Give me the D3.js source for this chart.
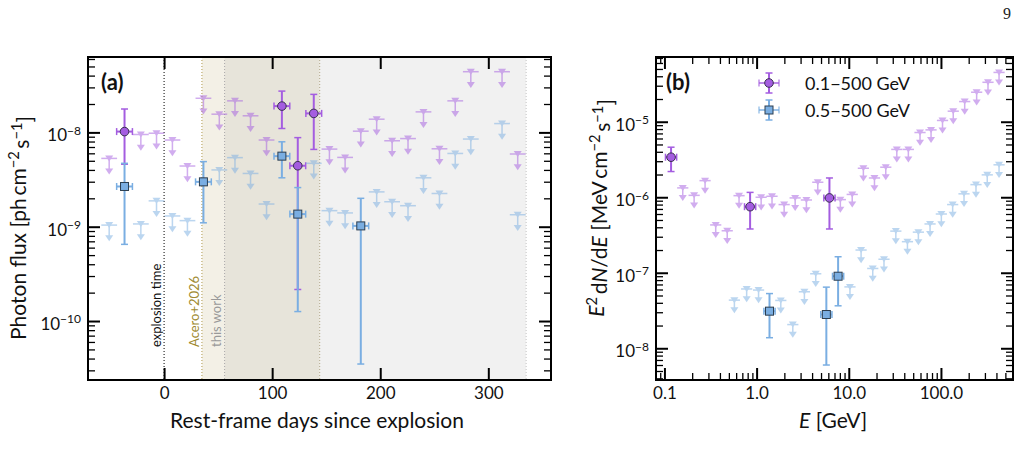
<!DOCTYPE html>
<html>
<head>
<meta charset="utf-8">
<script src="https://cdn.jsdelivr.net/npm/d3@7"></script>
<style>
body { margin: 0; background: #fff; }
svg { font-family: Lato, "DejaVu Sans", sans-serif; }
</style>
</head>
<body>
<div id="chart"></div>
<script>
// ---------- panel (a): light curve, rest-frame days ----------
const aBinHalf = 7.3
// 0.1-500 GeV detections
const aPurpleDetT  = [-36.6, 109, 123.7, 138.5]
const aPurpleDetV  = [1.02e-8, 1.9e-8, 4.43e-9, 1.59e-8]
const aPurpleDetLo = [4.6e-9, 1.1e-8, 2.16e-10, 6.6e-9]
const aPurpleDetHi = [1.77e-8, 2.74e-8, 8.8e-9, 2.53e-8]
// 0.1-500 GeV upper limits
const aPurpleUlT = [-50.8, -21.5, -7, 7.7, 21.6, 36.4, 51.1, 65.6, 80, 94.8, 153, 167.5, 182, 196.7, 211, 225.7, 240, 254.8, 269.4, 283.8, 312.7, 327.2]
const aPurpleUlV = [5.3e-9, 9.5e-9, 9.8e-9, 8.3e-9, 4.4e-9, 2.3e-8, 1.56e-8, 2.16e-8, 1.5e-8, 8.3e-9, 6.65e-9, 5.43e-9, 1.03e-8, 1.38e-8, 8.15e-9, 8.6e-9, 1.65e-8, 6.7e-9, 2.16e-8, 4.4e-8, 4.4e-8, 5.9e-9]
// 0.5-500 GeV detections
const aBlueDetT  = [-36.6, 36.4, 109, 123.7, 182]
const aBlueDetV  = [2.67e-9, 2.99e-9, 5.6e-9, 1.36e-9, 1.02e-9]
const aBlueDetLo = [6.5e-10, 1.1e-9, 3.3e-9, 1.26e-10, 3.5e-11]
const aBlueDetHi = [4.7e-9, 4.9e-9, 7.95e-9, 2.6e-9, 2.0e-9]
// 0.5-500 GeV upper limits
const aBlueUlT = [-50.8, -21.5, -7, 7.7, 21.6, 51.1, 65.6, 80, 94.8, 138.5, 153, 167.5, 196.7, 211, 225.7, 240, 254.8, 269.4, 283.8, 312.7, 327.2]
const aBlueUlV = [1.04e-9, 1.07e-9, 1.88e-9, 1.3e-9, 1.16e-9, 4.0e-9, 5.4e-9, 3.67e-9, 1.74e-9, 4.7e-9, 1.48e-9, 1.4e-9, 2.34e-9, 1.84e-9, 1.67e-9, 3.3e-9, 2.25e-9, 5.98e-9, 8.5e-9, 1.24e-8, 1.34e-9]
// shaded periods (days)
const explosionDay = 0
const aceroRange = [35, 144]
const thisWorkRange = [56, 144]
const laterRange = [144, 335]

// ---------- panel (b): SED ----------
const bBinFactor = 1.15
const bPurpleDetE  = [0.118, 0.85, 6.17]
const bPurpleDetV  = [3.39e-6, 7.5e-7, 9.8e-7]
const bPurpleDetLo = [2.19e-6, 3.8e-7, 3.8e-7]
const bPurpleDetHi = [4.6e-6, 1.16e-6, 1.8e-6]
const bPurpleUlE = [0.158, 0.21, 0.276, 0.36, 0.48, 0.645, 1.12, 1.47, 1.99, 2.62, 3.47, 4.61, 8.1, 10.9, 14.4, 19.0, 25.2, 33.2, 44.3, 59.3, 78.1, 104, 136, 181, 244, 324, 427]
const bPurpleUlV = [1.33e-6, 1.06e-6, 1.66e-6, 4.3e-7, 3.6e-7, 1.05e-6, 1.0e-6, 1.03e-6, 8.0e-7, 9.8e-7, 9.2e-7, 1.58e-6, 9.3e-7, 1.09e-6, 2.42e-6, 1.8e-6, 2.5e-6, 4.3e-6, 4.3e-6, 7.2e-6, 7.8e-6, 1.04e-5, 1.38e-5, 1.85e-5, 2.46e-5, 3.33e-5, 4.5e-5]
const bBlueDetE  = [1.38, 5.71, 7.66]
const bBlueDetV  = [3.1e-8, 2.8e-8, 9.0e-8]
const bBlueDetLo = [1.38e-8, 6.0e-9, 3.65e-8]
const bBlueDetHi = [5.3e-8, 6.45e-8, 1.63e-7]
const bBlueUlE = [0.574, 0.78, 1.05, 1.83, 2.47, 3.3, 4.38, 10.3, 13.6, 18.2, 24.1, 32.4, 43.3, 56.9, 76.2, 101, 134, 178, 240, 318, 427]
const bBlueUlV = [4.34e-8, 6.1e-8, 5.9e-8, 4.3e-8, 2.06e-8, 5.6e-8, 9.7e-8, 6.5e-8, 2.0e-7, 1.14e-7, 1.51e-7, 3.56e-7, 2.58e-7, 3.45e-7, 4.43e-7, 6.0e-7, 8.0e-7, 1.11e-6, 1.47e-6, 1.98e-6, 2.69e-6]

const legendLabels = ["0.1\u2212500 GeV", "0.5\u2212500 GeV"]

// colours
const purple = "#a45de0"
const blue = "#7aaee2"
const ulFrac = 0.69   // arrow tip of an upper limit, as fraction of the limit

const W = 1023, H = 466
const svg = d3.select("#chart").append("svg")
  .attr("width", W).attr("height", H)

const boxA = {left: 88, right: 551, top: 57, bottom: 380}
const boxB = {left: 656, right: 1013, top: 57, bottom: 380}

const xA = d3.scaleLinear().domain([-70.4, 358]).range([boxA.left, boxA.right])
const yA = d3.scaleLog().domain([2.37e-11, 6.3e-8]).range([boxA.bottom, boxA.top])
const xB = d3.scaleLog().domain([0.081, 605]).range([boxB.left, boxB.right])
const yB = d3.scaleLog().domain([3.8e-9, 7.2e-5]).range([boxB.bottom, boxB.top])

// minor ticks for a log domain
function logMinor(domain) {
  const out = []
  for (let e = -12; e <= 4; e++) {
    for (let m = 2; m <= 9; m++) {
      const v = m * Math.pow(10, e)
      if (v > domain[0] && v < domain[1]) out.push(v)
    }
  }
  return out
}
function logMajor(domain) {
  const out = []
  for (let e = -12; e <= 4; e++) {
    const v = Math.pow(10, e)
    if (v >= domain[0] && v <= domain[1]) out.push(v)
  }
  return out
}

// ---------- shaded regions panel (a) ----------
const gA = svg.append("g")
function shade(range, fill) {
  gA.append("rect")
    .attr("x", xA(range[0])).attr("y", boxA.top)
    .attr("width", xA(range[1]) - xA(range[0]))
    .attr("height", boxA.bottom - boxA.top)
    .attr("fill", fill)
}
shade(aceroRange, "#f3f0e6")
shade(thisWorkRange, "#e7e4da")
shade(laterRange, "#f1f1f1")

function vline(day, color) {
  gA.append("line")
    .attr("x1", xA(day)).attr("x2", xA(day))
    .attr("y1", boxA.top).attr("y2", boxA.bottom)
    .attr("stroke", color).attr("stroke-width", 1)
    .attr("stroke-dasharray", "1,2")
}
vline(explosionDay, "#000")
vline(aceroRange[0], "#b09a50")
vline(thisWorkRange[0], "#a8a8a8")
vline(thisWorkRange[1], "#b0a888")
vline(laterRange[1], "#c4c4c4")

function vtext(day, dx, txt, color) {
  gA.append("text")
    .attr("transform", `translate(${xA(day) + dx},347) rotate(-90)`)
    .attr("font-size", "13px")
    .attr("fill", color)
    .text(txt)
}
vtext(explosionDay, -3, "explosion time", "#111")
vtext(aceroRange[0], -3, "Acero+2026", "#a08a30")
vtext(thisWorkRange[0], -4, "this work", "#999")

// ---------- marks ----------
function drawDet(g, xs, ys, x, xlo, xhi, v, lo, hi, color, shape) {
  const cx = xs(x), cy = ys(v)
  const grp = g.append("g")
  grp.append("line").attr("x1", cx).attr("x2", cx).attr("y1", ys(lo)).attr("y2", ys(hi))
    .attr("stroke", color).attr("stroke-width", 2)
  grp.append("line").attr("x1", xs(xlo)).attr("x2", xs(xhi)).attr("y1", cy).attr("y2", cy)
    .attr("stroke", color).attr("stroke-width", 2)
  ;[ys(lo), ys(hi)].forEach(yy => grp.append("line")
    .attr("x1", cx - 3.5).attr("x2", cx + 3.5).attr("y1", yy).attr("y2", yy)
    .attr("stroke", color).attr("stroke-width", 1.5))
  ;[xs(xlo), xs(xhi)].forEach(xx => grp.append("line")
    .attr("x1", xx).attr("x2", xx).attr("y1", cy - 3.5).attr("y2", cy + 3.5)
    .attr("stroke", color).attr("stroke-width", 1.5))
  if (shape === "circle") {
    grp.append("circle").attr("cx", cx).attr("cy", cy).attr("r", 4.3)
      .attr("fill", color).attr("stroke", "#3a3050").attr("stroke-width", 1)
  } else {
    grp.append("rect").attr("x", cx - 4).attr("y", cy - 4).attr("width", 8).attr("height", 8)
      .attr("fill", color).attr("stroke", "#2c3e50").attr("stroke-width", 1)
  }
}

function drawUl(g, xs, ys, x, xlo, xhi, v, color) {
  const cx = xs(x), cy = ys(v), yb = ys(v * ulFrac)
  const grp = g.append("g").attr("opacity", 0.5)
  grp.append("line").attr("x1", xs(xlo)).attr("x2", xs(xhi)).attr("y1", cy).attr("y2", cy)
    .attr("stroke", color).attr("stroke-width", 1.5)
  grp.append("line").attr("x1", cx).attr("x2", cx).attr("y1", cy).attr("y2", yb - 3)
    .attr("stroke", color).attr("stroke-width", 1.5)
  grp.append("path").attr("d", `M${cx - 4},${cy - 3}L${cx + 4},${cy - 3}L${cx},${cy + 3}Z`)
    .attr("fill", color)
  grp.append("path").attr("d", `M${cx - 4},${yb - 5}L${cx + 4},${yb - 5}L${cx},${yb + 1}Z`)
    .attr("fill", color)
}

// panel (a) marks: purple first, blue on top
const marksA = svg.append("g")
aPurpleUlT.forEach((t, i) => drawUl(marksA, xA, yA, t, t - aBinHalf, t + aBinHalf, aPurpleUlV[i], purple))
aPurpleDetT.forEach((t, i) => drawDet(marksA, xA, yA, t, t - aBinHalf, t + aBinHalf,
  aPurpleDetV[i], aPurpleDetLo[i], aPurpleDetHi[i], purple, "circle"))
aBlueUlT.forEach((t, i) => drawUl(marksA, xA, yA, t, t - aBinHalf, t + aBinHalf, aBlueUlV[i], blue))
aBlueDetT.forEach((t, i) => drawDet(marksA, xA, yA, t, t - aBinHalf, t + aBinHalf,
  aBlueDetV[i], aBlueDetLo[i], aBlueDetHi[i], blue, "square"))

// panel (b) marks
const marksB = svg.append("g")
bPurpleUlE.forEach((e, i) => drawUl(marksB, xB, yB, e, e / bBinFactor, e * bBinFactor, bPurpleUlV[i], purple))
bPurpleDetE.forEach((e, i) => drawDet(marksB, xB, yB, e, e / bBinFactor, e * bBinFactor,
  bPurpleDetV[i], bPurpleDetLo[i], bPurpleDetHi[i], purple, "circle"))
bBlueUlE.forEach((e, i) => drawUl(marksB, xB, yB, e, e / bBinFactor, e * bBinFactor, bBlueUlV[i], blue))
bBlueDetE.forEach((e, i) => drawDet(marksB, xB, yB, e, e / bBinFactor, e * bBinFactor,
  bBlueDetV[i], bBlueDetLo[i], bBlueDetHi[i], blue, "square"))

// ---------- axes ----------
function supLabel(sel, anchor, dy) {
  sel.each(function(d) {
    const t = d3.select(this)
    const ex = Math.round(Math.log10(d))
    t.text(null).attr("text-anchor", anchor).attr("dy", dy)
    t.append("tspan").text("10")
    t.append("tspan").attr("dy", "-0.55em").attr("font-size", "12px").text("\u2212" + Math.abs(ex))
  })
}

function styleAxis(g, width) {
  g.select(".domain").remove()
  g.selectAll(".tick line").attr("stroke", "#000").attr("stroke-width", width)
  g.selectAll("text").attr("font-family", "Lato, 'DejaVu Sans', sans-serif")
    .attr("font-size", "17px").attr("fill", "#111")
}

function axes(box, xs, ys, xMajor, xMinor, xFmt, yMajor, yMinor) {
  const g = svg.append("g")
  // bottom/top major
  const b = g.append("g").attr("transform", `translate(0,${box.bottom})`)
    .call(d3.axisBottom(xs).tickValues(xMajor).tickSize(-12).tickPadding(7).tickFormat(xFmt))
  styleAxis(b, 2)
  const t = g.append("g").attr("transform", `translate(0,${box.top})`)
    .call(d3.axisTop(xs).tickValues(xMajor).tickSize(-12).tickFormat(""))
  styleAxis(t, 2)
  if (xMinor.length) {
    styleAxis(g.append("g").attr("transform", `translate(0,${box.bottom})`)
      .call(d3.axisBottom(xs).tickValues(xMinor).tickSize(-7).tickFormat("")), 1.3)
    styleAxis(g.append("g").attr("transform", `translate(0,${box.top})`)
      .call(d3.axisTop(xs).tickValues(xMinor).tickSize(-7).tickFormat("")), 1.3)
  }
  const l = g.append("g").attr("transform", `translate(${box.left},0)`)
    .call(d3.axisLeft(ys).tickValues(yMajor).tickSize(-12).tickPadding(7))
  styleAxis(l, 2)
  supLabel(l.selectAll(".tick text"), "end", "0.5em")
  styleAxis(g.append("g").attr("transform", `translate(${box.right},0)`)
    .call(d3.axisRight(ys).tickValues(yMajor).tickSize(-12).tickFormat("")), 2)
  styleAxis(g.append("g").attr("transform", `translate(${box.left},0)`)
    .call(d3.axisLeft(ys).tickValues(yMinor).tickSize(-7).tickFormat("")), 1.3)
  styleAxis(g.append("g").attr("transform", `translate(${box.right},0)`)
    .call(d3.axisRight(ys).tickValues(yMinor).tickSize(-7).tickFormat("")), 1.3)
  g.append("rect").attr("x", box.left).attr("y", box.top)
    .attr("width", box.right - box.left).attr("height", box.bottom - box.top)
    .attr("fill", "none").attr("stroke", "#000").attr("stroke-width", 2)
}

axes(boxA, xA, yA, [0, 100, 200, 300], [], d3.format("d"),
  logMajor(yA.domain()), logMinor(yA.domain()))
axes(boxB, xB, yB, logMajor(xB.domain()), logMinor(xB.domain()), d3.format(".1f"),
  logMajor(yB.domain()), logMinor(yB.domain()))

// ---------- titles / labels ----------
function label(x, y, rot, parts, size) {
  const t = svg.append("text")
    .attr("transform", `translate(${x},${y}) rotate(${rot})`)
    .attr("text-anchor", "middle").attr("font-size", size + "px").attr("fill", "#111")
  parts.forEach(p => {
    const s = t.append("tspan").text(p.t)
    if (p.sup) s.attr("dy", "-0.5em").attr("font-size", (size * 0.7) + "px")
    if (p.down) s.attr("dy", "0.5em")
    if (p.it) s.attr("font-style", "italic")
  })
}

label(317, 428, 0, [{t: "Rest-frame days since explosion"}], 21)
label(26, 228, -90, [
  {t: "Photon flux [ph\u2009cm"}, {t: "\u22122", sup: true}, {t: "\u2009s", down: true},
  {t: "\u22121", sup: true}, {t: "]", down: true}], 21)
label(833, 428, 0, [{t: "E", it: true}, {t: " [GeV]"}], 21)
label(604, 208, -90, [
  {t: "E", it: true}, {t: "2", sup: true}, {t: "\u2009d", down: true}, {t: "N", it: true},
  {t: "/d"}, {t: "E", it: true}, {t: " [MeV\u2009cm"}, {t: "\u22122", sup: true},
  {t: "\u2009s", down: true}, {t: "\u22121", sup: true}, {t: "]", down: true}], 21)

svg.append("text").attr("x", 101).attr("y", 90).attr("font-size", "22px")
  .attr("font-weight", "bold").attr("fill", "#111").text("(a)")
svg.append("text").attr("x", 666).attr("y", 90).attr("font-size", "22px")
  .attr("font-weight", "bold").attr("fill", "#111").text("(b)")

svg.append("text").attr("x", 1003).attr("y", 19).attr("font-size", "16px")
  .attr("font-family", "'Liberation Serif', 'DejaVu Serif', serif").attr("fill", "#222").text("9")

// ---------- legend ----------
const leg = svg.append("g")
const legColors = [purple, blue]
const legShapes = ["circle", "square"]
legendLabels.forEach((lab, i) => {
  const cx = 769, cy = 83 + i * 27
  const c = legColors[i]
  leg.append("line").attr("x1", cx - 10).attr("x2", cx + 10).attr("y1", cy).attr("y2", cy)
    .attr("stroke", c).attr("stroke-width", 2).attr("opacity", 0.7)
  leg.append("line").attr("x1", cx).attr("x2", cx).attr("y1", cy - 10).attr("y2", cy + 10)
    .attr("stroke", c).attr("stroke-width", 2)
  ;[-10, 10].forEach(o => {
    leg.append("line").attr("x1", cx - 3.5).attr("x2", cx + 3.5).attr("y1", cy + o).attr("y2", cy + o)
      .attr("stroke", c).attr("stroke-width", 1.5)
    leg.append("line").attr("x1", cx + o).attr("x2", cx + o).attr("y1", cy - 3.5).attr("y2", cy + 3.5)
      .attr("stroke", c).attr("stroke-width", 1.5).attr("opacity", 0.7)
  })
  if (legShapes[i] === "circle") {
    leg.append("circle").attr("cx", cx).attr("cy", cy).attr("r", 4.3)
      .attr("fill", c).attr("stroke", "#3a3050").attr("stroke-width", 1)
  } else {
    leg.append("rect").attr("x", cx - 4).attr("y", cy - 4).attr("width", 8).attr("height", 8)
      .attr("fill", c).attr("stroke", "#2c3e50").attr("stroke-width", 1)
  }
  leg.append("text").attr("x", 805).attr("y", cy + 7).attr("font-size", "18px")
    .attr("fill", "#111").text(lab)
})
</script>
</body>
</html>
